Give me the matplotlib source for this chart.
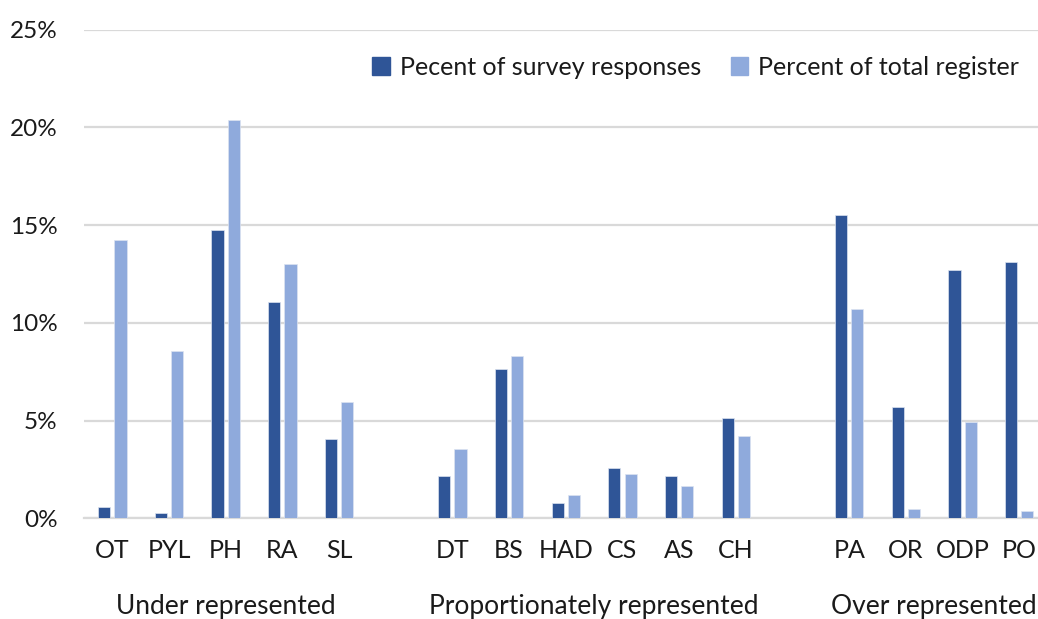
import matplotlib
matplotlib.use("Agg")
import matplotlib.pyplot as plt
import matplotlib.transforms as mtransforms
from matplotlib.patches import Patch

DARK, LIGHT, GRID = "#2F5597", "#8FAADC", "#D9D9D9"

plt.rcParams["font.family"] = ["Lato", "DejaVu Sans"]
plt.rcParams["font.size"] = 13

# --- data ------------------------------------------------------------------
groups = ["Under represented", "Proportionately represented", "Over represented"]
under_cats = ["OT", "PYL", "PH", "RA", "SL"]
prop_cats = ["DT", "BS", "HAD", "CS", "AS", "CH"]
over_cats = ["PA", "OR", "ODP", "PO"]

under_survey = [0.58, 0.29, 14.75, 11.08, 4.06]
under_register = [14.22, 8.56, 20.36, 13.00, 5.93]
prop_survey = [2.18, 7.62, 0.78, 2.57, 2.18, 5.15]
prop_register = [3.53, 8.30, 1.18, 2.28, 1.65, 4.23]
over_survey = [15.52, 5.71, 12.72, 13.13]
over_register = [10.68, 0.48, 4.95, 0.38]

yticks = [0, 5, 10, 15, 20, 25]

# --- layout: one empty slot between groups -----------------------------------
cats, survey, register, xs, centers = [], [], [], [], []
pos = 0
for cs, sv, rg in [(under_cats, under_survey, under_register),
                   (prop_cats, prop_survey, prop_register),
                   (over_cats, over_survey, over_register)]:
    gx = list(range(pos, pos + len(cs)))
    xs += gx
    cats += cs; survey += sv; register += rg
    centers.append(sum(gx) / len(gx))
    pos += len(cs) + 1

fig = plt.figure(figsize=(10.38, 6.19), dpi=100)
ax = fig.add_axes([0.0809, 0.1627, 0.9191, 0.7896])

w, off = 0.215, 0.143
ax.bar([x - off for x in xs], survey, width=w, color=DARK, edgecolor="#DCE3F0",
       lw=0.5, zorder=3)
ax.bar([x + off for x in xs], register, width=w, color=LIGHT, edgecolor="#DCE3F0",
       lw=0.5, zorder=3)

ax.set_ylim(0, 25)
ax.set_xlim(-0.5, 16.33)
ax.set_yticks(yticks)
ax.set_yticklabels([f"{v}%" for v in yticks], color="#1a1a1a", fontsize=17.5)
ax.yaxis.grid(True, color=GRID, lw=1.6, zorder=0)
ax.set_xticks(xs)
ax.set_xticklabels(cats, color="#1a1a1a", fontsize=18)
ax.tick_params(axis="both", length=0)
ax.tick_params(axis="y", pad=19)
ax.tick_params(axis="x", pad=15)
for s in ["top", "right", "left"]:
    ax.spines[s].set_visible(False)
ax.spines["bottom"].set_color(GRID)
ax.spines["bottom"].set_linewidth(1.6)

trans = mtransforms.blended_transform_factory(ax.transData, ax.transAxes)
for name, cx in zip(groups, centers):
    ax.text(cx, -0.18, name, transform=trans, ha="center", va="center",
            fontsize=19, color="#1a1a1a")

ax.legend(handles=[Patch(color=DARK, label="Pecent of survey responses"),
                   Patch(color=LIGHT, label="Percent of total register")],
          loc="center right", bbox_to_anchor=(1.004, 0.923), ncol=2, frameon=False,
          handlelength=0.7, handleheight=0.7, handletextpad=0.4,
          columnspacing=1.2, fontsize=18, labelcolor="#1a1a1a")

fig.savefig("out.png", dpi=100)
